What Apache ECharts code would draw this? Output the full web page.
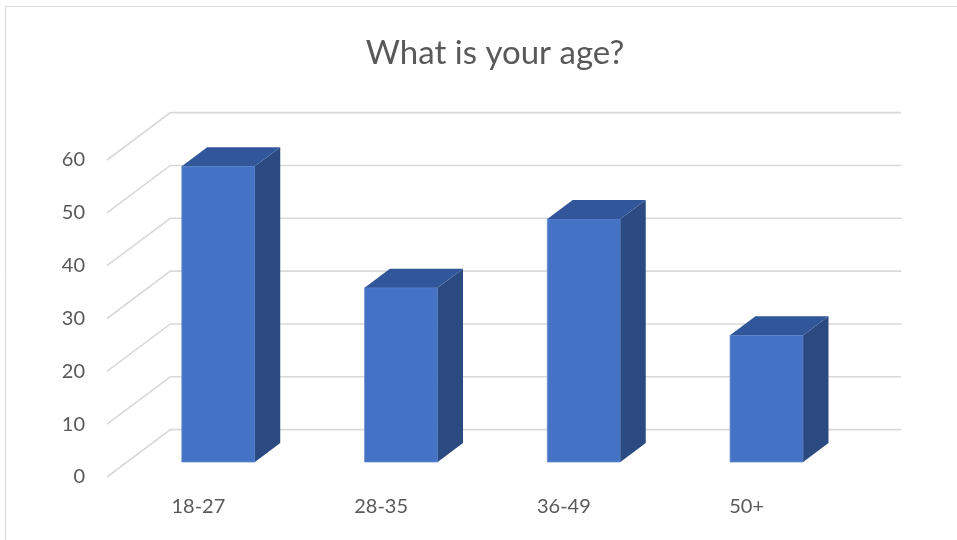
<!DOCTYPE html>
<html>
<head>
<meta charset="utf-8">
<script src="https://cdn.jsdelivr.net/npm/echarts@6/dist/echarts.min.js"></script>
<style>
html,body{margin:0;padding:0;background:#fff;}
#chart{width:957px;height:540px;}
</style>
</head>
<body>
<div id="chart"></div>
<script>
const categories = ['18-27', '28-35', '36-49', '50+'];
const values = [56, 33, 46, 24];
const yTicks = [0, 10, 20, 30, 40, 50, 60];

const chart = echarts.init(document.getElementById('chart'), null, {renderer: 'canvas'});

const DX = 63.3, DY = -47.4;      // depth vector (front -> back) in px
const F0 = 0.316, F1 = 0.716;     // bar depth range as fraction of full depth
const FONT = 'Lato, "Open Sans", sans-serif';

function renderBar(params, api) {
  const idx = api.value(0);
  const v = api.value(1);
  const base = api.coord([idx, 0]);
  const top = api.coord([idx, v]);
  const bw = api.size([1, 0])[0] * 0.4;
  const ox = DX * F0, oy = DY * F0;
  const dx = DX * (F1 - F0), dy = DY * (F1 - F0);
  const xl = base[0] - bw / 2 + ox, xr = base[0] + bw / 2 + ox;
  const yb = base[1] + oy, yt = top[1] + oy;
  return {
    type: 'group',
    children: [
      {type: 'polygon', shape: {points: [[xl, yt], [xr, yt], [xr, yb], [xl, yb]]},
       style: {fill: '#4472C4', stroke: '#6a8fd2', lineWidth: 0.8}},
      {type: 'polygon', shape: {points: [[xr, yt], [xr + dx, yt + dy], [xr + dx, yb + dy], [xr, yb]]},
       style: {fill: '#2A4A81'}},
      {type: 'polygon', shape: {points: [[xl, yt], [xr, yt], [xr + dx, yt + dy], [xl + dx, yt + dy]]},
       style: {fill: '#31579A'}}
    ]
  };
}

function renderGrid(params, api) {
  const cs = params.coordSys;
  const y = api.coord([0, api.value(1)])[1];
  return {
    type: 'polyline',
    shape: {points: [[cs.x, y], [cs.x + DX, y + DY], [cs.x + cs.width + DX, y + DY]]},
    style: {stroke: '#d9d9d9', lineWidth: 1.6, fill: null}
  };
}

chart.setOption({
  animation: false,
  backgroundColor: '#fff',
  title: {
    text: 'What is your age?',
    left: 490,
    textAlign: 'center',
    top: 32,
    textStyle: {color: '#595959', fontSize: 33, fontWeight: 'normal', fontFamily: FONT}
  },
  graphic: [{
    type: 'rect',
    shape: {x: 5.5, y: 6.5, width: 1200, height: 1200},
    style: {fill: null, stroke: '#d9d9d9', lineWidth: 1},
    silent: true, z: -10
  }],
  grid: {left: 107, top: 160, width: 731, height: 317},
  xAxis: {
    type: 'category',
    data: categories,
    axisLine: {show: false},
    axisTick: {show: false},
    axisLabel: {color: '#595959', fontSize: 20, margin: 20, fontFamily: FONT}
  },
  yAxis: {
    type: 'value',
    min: 0, max: 60, interval: 10,
    axisLine: {show: false},
    axisTick: {show: false},
    splitLine: {show: false},
    axisLabel: {color: '#595959', fontSize: 20, margin: 22, fontFamily: FONT}
  },
  series: [
    {
      type: 'custom',
      z: 1,
      silent: true,
      renderItem: renderGrid,
      data: yTicks.map(t => [0, t]),
      encode: {x: 0, y: 1}
    },
    {
      type: 'custom',
      z: 2,
      renderItem: renderBar,
      data: values.map((v, i) => [i, v]),
      encode: {x: 0, y: 1}
    }
  ]
});
</script>
</body>
</html>
